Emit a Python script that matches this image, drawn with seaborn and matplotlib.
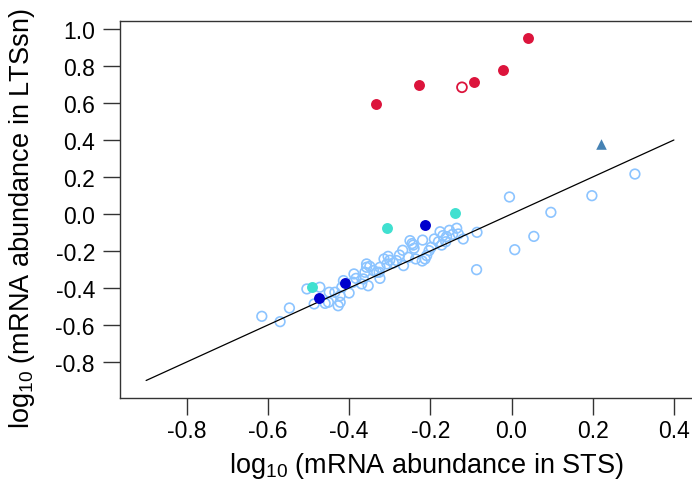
import matplotlib
matplotlib.use("Agg")
import matplotlib.pyplot as plt
import seaborn as sns
import pandas as pd

# Light-blue open circles (bulk of genes)
other_x = [-0.005, 0.008, 0.304, 0.198, 0.097, 0.055, -0.085, -0.086, -0.119, -0.131,
           -0.135, -0.153, -0.160, -0.162, -0.169, -0.172, -0.176, -0.190, -0.198, -0.203,
           -0.209, -0.219, -0.213, -0.220, -0.236, -0.242, -0.250, -0.254, -0.268, -0.276,
           -0.266, -0.283, -0.291, -0.304, -0.307, -0.314, -0.324, -0.326, -0.324, -0.332,
           -0.340, -0.349, -0.357, -0.357, -0.361, -0.353, -0.365, -0.369, -0.383, -0.388,
           -0.390, -0.400, -0.414, -0.418, -0.422, -0.427, -0.422, -0.435, -0.449, -0.451,
           -0.459, -0.472, -0.486, -0.504, -0.547, -0.615, -0.570, -0.245, -0.300, -0.180,
           -0.145, -0.240]
other_y = [0.092, -0.193, 0.216, 0.099, 0.009, -0.121, -0.099, -0.301, -0.135, -0.108,
           -0.077, -0.088, -0.122, -0.150, -0.117, -0.168, -0.096, -0.135, -0.180, -0.198,
           -0.225, -0.141, -0.243, -0.254, -0.243, -0.168, -0.144, -0.234, -0.196, -0.222,
           -0.279, -0.252, -0.265, -0.229, -0.270, -0.243, -0.288, -0.315, -0.348, -0.315,
           -0.306, -0.283, -0.270, -0.288, -0.315, -0.388, -0.351, -0.378, -0.348, -0.324,
           -0.369, -0.427, -0.360, -0.396, -0.442, -0.496, -0.477, -0.423, -0.423, -0.477,
           -0.483, -0.396, -0.486, -0.405, -0.508, -0.553, -0.582, -0.160, -0.250, -0.150,
           -0.110, -0.185]

# Red filled circles
red_x = [-0.333, -0.228, -0.092, -0.020, 0.041]
red_y = [0.595, 0.700, 0.712, 0.780, 0.951]
# Red open circle
redopen_x = [-0.122]
redopen_y = [0.685]
# Turquoise filled
teal_x = [-0.491, -0.307, -0.140]
teal_y = [-0.393, -0.077, 0.005]
# Dark blue filled
navy_x = [-0.474, -0.410, -0.214]
navy_y = [-0.456, -0.371, -0.058]
# Triangle
tri_x = [0.220]
tri_y = [0.378]
# Identity line
line_x = [-0.9, 0.4]
line_y = [-0.9, 0.4]

x_ticks = [-0.8, -0.6, -0.4, -0.2, 0.0, 0.2, 0.4]
y_ticks = [-0.8, -0.6, -0.4, -0.2, 0.0, 0.2, 0.4, 0.6, 0.8, 1.0]

sns.set_style("white")
plt.rcParams['font.family'] = ['Liberation Sans', 'DejaVu Sans']
plt.rcParams['mathtext.fontset'] = 'custom'
plt.rcParams['mathtext.rm'] = 'Liberation Sans'
plt.rcParams['mathtext.it'] = 'Liberation Sans'
plt.rcParams['text.color'] = 'black'
plt.rcParams['axes.labelcolor'] = 'black'

W, H = 692, 481
fig = plt.figure(figsize=(W / 100, H / 100), dpi=100)
# axes box in pixels: left 120, right ~735 (clipped), top 22, bottom 399
left, right, top, bottom = 120, 735, 22, 399
ax = fig.add_axes([left / W, 1 - bottom / H, (right - left) / W, (bottom - top) / H])

df_other = pd.DataFrame({"x": other_x, "y": other_y})
sns.scatterplot(data=df_other, x="x", y="y", ax=ax, marker="o", s=48,
                facecolors="none", edgecolor="#8cc4ff", linewidth=1.2, zorder=2)
sns.lineplot(x=line_x, y=line_y, ax=ax, color="black", linewidth=0.9, zorder=3)
sns.scatterplot(x=teal_x, y=teal_y, ax=ax, color="#40e0d0", s=62, linewidth=0, zorder=4)
sns.scatterplot(x=navy_x, y=navy_y, ax=ax, color="#0000cd", s=62, linewidth=0, zorder=4)
sns.scatterplot(x=red_x, y=red_y, ax=ax, color="#dc143c", s=62, linewidth=0, zorder=4)
sns.scatterplot(x=redopen_x, y=redopen_y, ax=ax, marker="o", s=50,
                facecolors="none", edgecolor="#dc143c", linewidth=1.3, zorder=4)
sns.scatterplot(x=tri_x, y=tri_y, ax=ax, marker="^", color="#4682b4", s=58, linewidth=0, zorder=4)

# data limits matching pixel mapping: x: -0.8 at 186.7, 406 px/unit ; y: 1.0 at 30, 185 px/unit
xpu, ypu = 406.0, 185.0
ax.set_xlim(-0.8 + (left - 186.7) / xpu, -0.8 + (right - 186.7) / xpu)
ax.set_ylim(1.0 - (bottom - 30) / ypu, 1.0 - (top - 30) / ypu)

ax.set_xticks(x_ticks)
ax.set_yticks(y_ticks)
ax.set_xticklabels([f"{v:.1f}" for v in x_ticks])
ax.set_yticklabels([f"{v:.1f}" for v in y_ticks])
ax.tick_params(axis="both", direction="out", length=12, width=1.0, color="#333333",
               labelsize=16.5, labelcolor="black", left=True, bottom=True)
ax.tick_params(axis="x", pad=3)
ax.tick_params(axis="y", pad=6)
for sp in ax.spines.values():
    sp.set_visible(True)
    sp.set_color("#333333")
    sp.set_linewidth(1.0)

ax.set_xlabel(r"$\mathrm{log}_{10}$ (mRNA abundance in STS)", fontsize=19.5)
ax.set_ylabel(r"$\mathrm{log}_{10}$ (mRNA abundance in LTSsn)", fontsize=19.5)
ax.xaxis.set_label_coords((426 - left) / (right - left), -(451 - bottom) / (bottom - top))
ax.yaxis.set_label_coords(-(left - 37) / (right - left), (bottom - 219) / (bottom - top))
ax.grid(False)

fig.savefig("out.png", dpi=100)
